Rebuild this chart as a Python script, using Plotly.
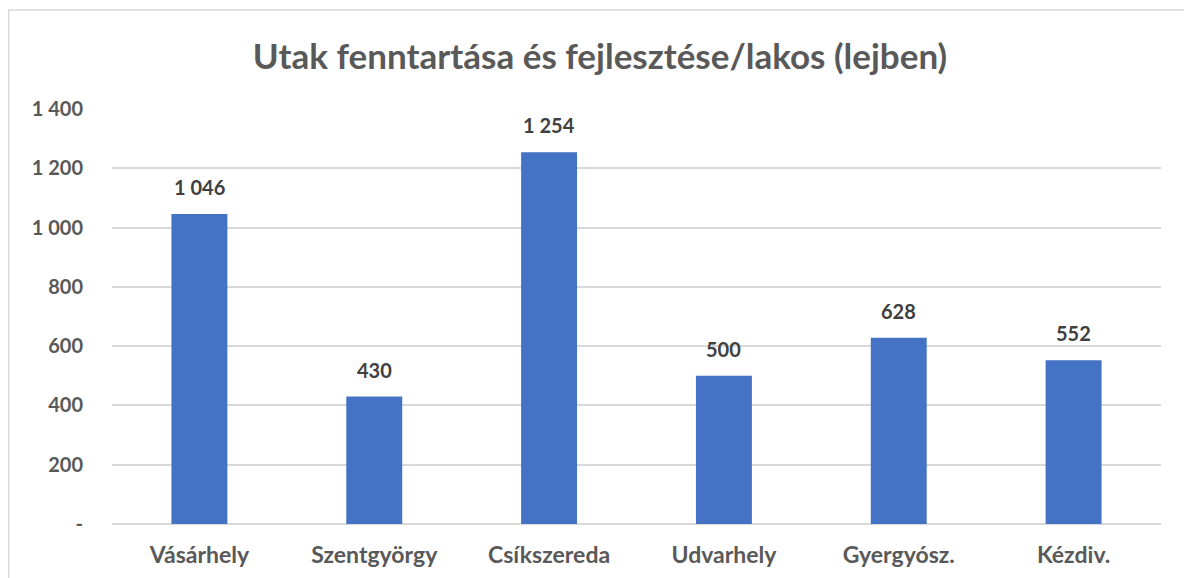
import plotly.graph_objects as go

varosok = ['Vásárhely', 'Szentgyörgy', 'Csíkszereda', 'Udvarhely', 'Gyergyósz.', 'Kézdiv.']
ertekek = [1046, 430, 1254, 500, 628, 552]
y_tickek = [0, 200, 400, 600, 800, 1000, 1200, 1400]


def szokoz(n):
    # ezres elválasztó szóközzel, nulla helyett kötőjel
    if n == 0:
        return '-'
    return f'{n:,}'.replace(',', ' ')


betu = 'Lato'
szurke = '#595959'

fig = go.Figure(
    go.Bar(x=varosok, y=ertekek, marker_color='#4472C4',
           marker_line_width=0, hoverinfo='x+y')
)

for v, e in zip(varosok, ertekek):
    fig.add_annotation(x=v, y=e, text='<b>' + szokoz(e) + '</b>', showarrow=False,
                       yanchor='bottom', yshift=13,
                       font=dict(family=betu, size=20, color='#404040'))

# keret a diagram körül
fig.add_shape(type='rect', xref='paper', yref='paper',
              x0=-0.0985, x1=1.0267, y0=-0.3, y1=1.2386,
              line=dict(color='#D9D9D9', width=1.5), layer='below')

fig.update_layout(
    width=1184, height=570,
    margin=dict(l=104, r=31, t=101, b=54),
    paper_bgcolor='white', plot_bgcolor='white',
    title=dict(text='<b>Utak fenntartása és fejlesztése/lakos (lejben)</b>',
               x=0.5, xanchor='center', y=0.914, yanchor='middle',
               font=dict(family=betu, size=35, color=szurke)),
    bargap=0.68,
    showlegend=False,
    xaxis=dict(showgrid=False, showline=False, ticks='', ticklabelstandoff=15,
               automargin=False,
               tickfont=dict(family=betu, size=23, color=szurke),
               tickprefix='<b>', ticksuffix='</b>'),
    yaxis=dict(range=[0, 1400], tickvals=y_tickek,
               ticktext=['<b>' + szokoz(t) + '</b>' for t in y_tickek],
               showgrid=True, gridcolor='#D9D9D9', gridwidth=1.5,
               zeroline=True, zerolinecolor='#D9D9D9', zerolinewidth=1.5,
               ticklabelstandoff=28, automargin=False,
               tickfont=dict(family=betu, size=20, color=szurke)),
)

fig.write_html('out.html')
